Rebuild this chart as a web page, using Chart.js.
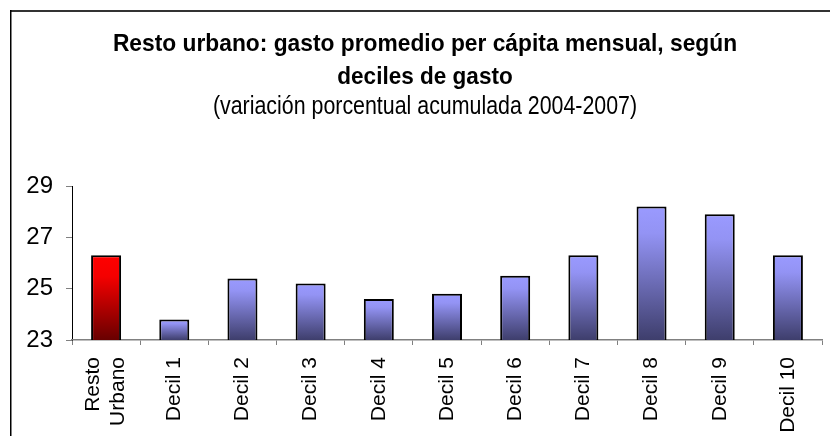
<!DOCTYPE html>
<html>
<head>
<meta charset="utf-8">
<script src="https://cdn.jsdelivr.net/npm/chart.js@4/dist/chart.umd.min.js"></script>
<style>
  html,body{margin:0;padding:0;background:#fff;}
  #wrap{position:relative;width:830px;height:436px;}
</style>
</head>
<body>
<div id="wrap"><canvas id="c" width="830" height="436"></canvas></div>
<script>
// data
const labels = [['Resto','Urbano'],'Decil 1','Decil 2','Decil 3','Decil 4','Decil 5','Decil 6','Decil 7','Decil 8','Decil 9','Decil 10'];
const values = [26.3, 23.8, 25.4, 25.2, 24.6, 24.8, 25.5, 26.3, 28.2, 27.9, 26.3];
const yTicks = [23, 25, 27, 29];
const titleLines = ['Resto urbano: gasto promedio per cápita mensual, según','deciles de gasto'];
const subtitle = '(variación porcentual acumulada 2004-2007)';

const FONT = "'Liberation Sans',Arial,sans-serif";

// per-bar vertical gradient, light at top, dark at base
function barFill(ctx){
  const chart = ctx.chart, area = chart.chartArea;
  if(!area || ctx.parsed == null) return '#8888ee';
  const top = chart.scales.y.getPixelForValue(ctx.parsed.y);
  const g = chart.ctx.createLinearGradient(0, top, 0, area.bottom);
  if(ctx.dataIndex === 0){
    g.addColorStop(0, '#ff0000'); g.addColorStop(0.25, '#f40000'); g.addColorStop(1, '#680000');
  } else {
    g.addColorStop(0, '#9a9aff'); g.addColorStop(0.2, '#9393f4'); g.addColorStop(1, '#3e3e6c');
  }
  return g;
}

// frame lines (top + left) and the narrow-looking title block
const deco = {
  id:'deco',
  afterDraw(chart){
    const c = chart.ctx; c.save();
    c.strokeStyle = '#333'; c.lineWidth = 2;
    c.beginPath(); c.moveTo(10, 11); c.lineTo(830, 11); c.stroke();
    c.strokeStyle = '#000'; c.lineWidth = 1.5;
    c.beginPath(); c.moveTo(10.75, 10); c.lineTo(10.75, 436); c.stroke();

    const put = (txt, font, y, sx) => {
      c.save(); c.font = font; c.fillStyle = '#000';
      c.textAlign = 'center'; c.textBaseline = 'alphabetic';
      c.translate(425, y); c.scale(sx, 1); c.fillText(txt, 0, 0); c.restore();
    };
    put(titleLines[0], 'bold 24.5px ' + FONT, 50.5, 0.93);
    put(titleLines[1], 'bold 24.5px ' + FONT, 83.5, 0.92);
    put(subtitle, '25px ' + FONT, 114, 0.855);

    // two-line category label, centred on its tick like the original
    const x = chart.scales.x;
    labels.forEach((lab, i) => {
      if(!Array.isArray(lab)) return;
      const px = x.getPixelForTick(i), lh = 25;
      c.save(); c.font = '21px ' + FONT; c.fillStyle = '#000';
      c.textAlign = 'right'; c.textBaseline = 'middle';
      lab.forEach((ln, j) => {
        c.save(); c.translate(px + (j - (lab.length - 1) / 2) * lh, 357);
        c.rotate(-Math.PI / 2); c.fillText(ln, 0, 0); c.restore();
      });
      c.restore();
    });
    c.restore();
  }
};

new Chart(document.getElementById('c'), {
  type:'bar',
  data:{labels, datasets:[{
    data: values,
    backgroundColor: barFill,
    borderColor:'#000', borderWidth:2, borderSkipped:false,
    barPercentage:0.44, categoryPercentage:1
  }]},
  options:{
    responsive:false, animation:false, devicePixelRatio:1,
    layout:{padding:{top:186, right:8, bottom:0, left:0}},
    plugins:{legend:{display:false}, tooltip:{enabled:false}, title:{display:false}},
    scales:{
      y:{
        min:23, max:29,
        afterBuildTicks(s){ s.ticks = yTicks.map(v=>({value:v})); },
        afterFit(s){ s.width = 72; },
        border:{color:'#000', width:1},
        grid:{drawOnChartArea:false, drawTicks:true, tickLength:6, color:'#808080'},
        ticks:{color:'#000', padding:13, font:{family:FONT, size:24}}
      },
      x:{
        afterFit(s){ s.height = 96; },
        border:{color:'#808080', width:1.5},
        grid:{drawOnChartArea:false, drawTicks:true, tickLength:5, color:'#808080', offset:true},
        ticks:{color:'#000', maxRotation:90, minRotation:90, padding:12, autoSkip:false,
          callback(v, i){ return Array.isArray(labels[i]) ? '' : labels[i]; },
          font:{family:FONT, size:21}}
      }
    }
  },
  plugins:[deco]
});
</script>
</body>
</html>
